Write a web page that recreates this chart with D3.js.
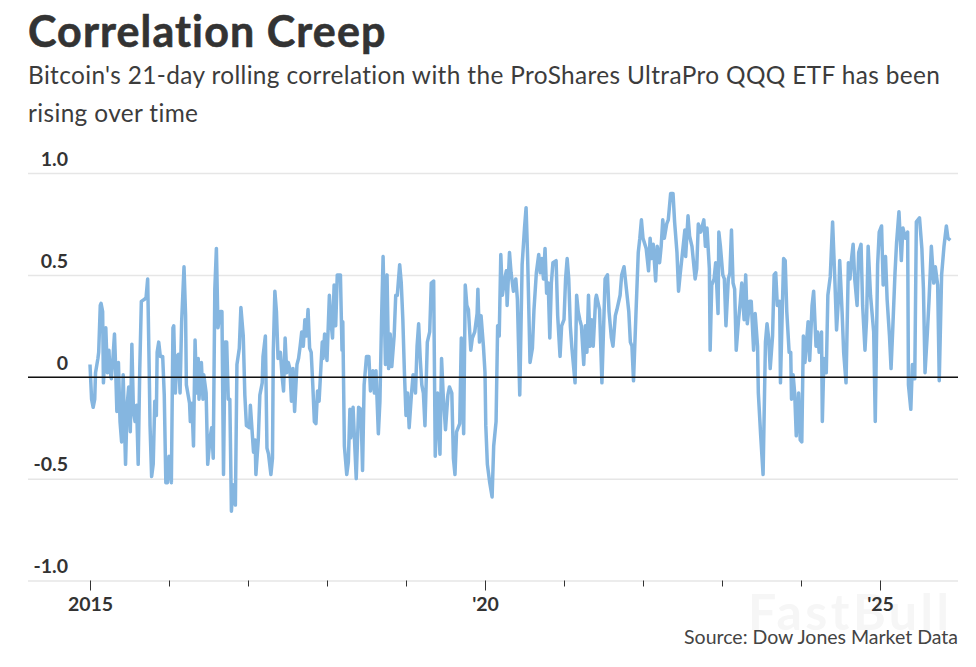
<!DOCTYPE html>
<html>
<head>
<meta charset="utf-8">
<script src="https://cdn.jsdelivr.net/npm/d3@7"></script>
<style>
  html, body { margin: 0; padding: 0; background: #fff; }
  svg { display: block; font-family: Lato, sans-serif; font-variant-ligatures: none; }
</style>
</head>
<body>
<div id="chart"></div>
<script>
// years as fractions since 2015
var yearOffsets = [
  0,.02,.04,.06,.07,.10,.11,.13,.14,.16,.17,.19,.20,.22,.24,.25,.27,.29,.31,.32,.34,.36,.38,.40,.42,.45,.47,.49,.51,.53,.55,.57,.59,.61,.63,.65,.69,.71,.73,.75,.76,.78,.80,.82,.84,.85,.87,.89,.92,.94,.96,.98,
  1.00,1.03,1.05,1.06,1.08,1.10,1.12,1.14,1.16,1.19,1.21,1.22,1.26,1.27,1.29,1.31,1.33,1.35,1.37,1.38,1.41,1.43,1.44,1.47,1.49,1.52,1.54,1.56,1.58,1.60,1.62,1.65,1.67,1.69,1.71,1.73,1.75,1.77,1.79,1.81,1.84,1.86,1.89,1.91,1.94,1.96,1.98,
  2.02,2.03,2.07,2.09,2.10,2.13,2.15,2.18,2.19,2.22,2.24,2.26,2.29,2.31,2.32,2.34,2.36,2.38,2.41,2.43,2.45,2.47,2.49,2.51,2.53,2.55,2.57,2.59,2.62,2.64,2.66,2.68,2.70,2.72,2.74,2.76,2.78,2.80,2.82,2.84,2.86,2.88,2.90,2.94,2.95,2.97,
  3.00,3.03,3.05,3.07,3.09,3.11,3.13,3.17,3.19,3.20,3.22,3.25,3.27,3.29,3.30,3.33,3.37,3.40,3.43,3.45,3.47,3.50,3.53,3.55,3.58,3.60,3.62,3.65,3.67,3.69,3.71,3.74,3.76,3.78,3.80,3.82,3.85,3.87,3.89,3.92,3.94,3.96,3.98,
  4.00,4.02,4.04,4.07,4.09,4.12,4.14,4.16,4.18,4.20,4.22,4.24,4.27,4.30,4.32,4.35,4.37,4.40,4.43,4.45,4.47,4.50,4.53,4.55,4.58,4.60,4.62,4.64,4.68,4.70,4.73,4.75,4.77,4.79,4.82,4.84,4.87,4.90,4.91,4.93,4.95,4.98,
  5.00,5.01,5.03,5.06,5.09,5.11,5.14,5.16,5.18,5.20,5.22,5.25,5.27,5.28,5.31,5.33,5.36,5.39,5.41,5.44,5.47,5.50,5.52,5.54,5.57,5.60,5.62,5.65,5.68,5.70,5.72,5.74,5.76,5.78,5.80,5.82,5.84,5.86,5.90,5.92,5.95,5.97,
  6.00,6.02,6.04,6.06,6.08,6.10,6.14,6.16,6.18,6.20,6.22,6.25,6.27,6.29,6.31,6.33,6.35,6.37,6.40,6.41,6.45,6.48,6.52,6.55,6.57,6.60,6.62,6.65,6.67,6.71,6.73,6.76,6.79,6.82,6.84,6.86,6.88,6.91,6.94,6.96,6.98,
  7.00,7.04,7.07,7.09,7.11,7.13,7.16,7.18,7.21,7.23,7.25,7.27,7.30,7.32,7.35,7.38,7.40,7.43,7.45,7.47,7.50,7.53,7.54,7.57,7.59,7.62,7.66,7.68,7.70,7.73,7.75,7.77,7.79,7.81,7.84,7.85,7.87,7.90,7.92,7.95,7.96,7.98,
  8.01,8.03,8.05,8.08,8.10,8.12,8.14,8.16,8.18,8.21,8.23,8.25,8.28,8.30,8.32,8.35,8.37,8.40,8.42,8.45,8.46,8.49,8.52,8.55,8.57,8.59,8.61,8.64,8.66,8.68,8.70,8.73,8.74,8.78,8.80,8.82,8.85,8.87,8.88,8.90,8.92,8.94,8.97,8.99,
  9.01,9.03,9.05,9.09,9.11,9.14,9.16,9.19,9.21,9.23,9.26,9.27,9.29,9.32,9.34,9.37,9.40,9.43,9.45,9.48,9.49,9.52,9.54,9.57,9.60,9.62,9.64,9.66,9.68,9.71,9.73,9.76,9.78,9.81,9.83,9.85,9.88,9.92,9.94,9.97,9.99,
  10.02,10.04,10.07,10.09,10.12,10.14,10.16,10.19,10.21,10.24,10.27,10.29,10.32,10.35,10.36,10.39,10.41,10.44,10.46,10.50,10.53,10.55,10.57,10.60,10.62,10.65,10.68,10.70,10.73,10.75,10.78,10.81,10.84,10.86,10.89
];

var correlation = [
  .06,-.11,-.15,-.11,.02,.09,.12,.35,.36,.32,-.03,.12,.24,.02,.13,.04,-.01,.09,.21,.10,-.17,.07,-.22,-.32,.01,-.43,-.14,-.05,-.27,.16,-.17,-.22,-.14,-.43,.04,.37,.38,.39,.48,.02,-.24,-.49,-.43,-.12,-.19,.12,.17,.10,.10,-.09,-.52,-.52,
  -.39,-.52,.24,.25,-.08,.10,.11,-.08,.27,.54,.30,-.04,-.13,-.22,-.13,-.34,.18,-.08,.09,-.11,.07,-.11,.01,-.08,-.43,-.30,-.25,-.40,.43,.63,.24,.32,.32,-.48,.17,.17,-.11,-.11,-.66,-.53,-.63,.06,.14,.34,.20,-.09,-.24,
  -.25,-.14,-.37,-.31,-.48,-.31,-.09,-.03,.10,.20,-.35,-.38,-.48,-.40,.12,.42,.32,.09,.12,.01,-.07,.19,.02,.07,.04,-.12,.04,-.17,.06,.09,.15,.22,.15,.28,.20,.33,.14,.12,-.04,-.22,-.23,-.07,-.12,.17,.09,.21,
  .08,.40,.27,.19,.45,.25,.50,.50,.13,.27,-.34,-.48,-.42,-.16,-.30,-.15,-.50,-.15,-.16,-.46,-.04,.10,.10,-.07,.03,-.08,.03,-.28,-.12,.27,.59,.06,.50,.04,.21,.05,.20,.40,.40,.55,.46,.28,.02,
  -.19,-.08,-.25,-.08,.01,-.08,.15,.26,.09,-.04,-.08,-.24,.17,.22,.46,.47,-.39,-.08,-.38,.09,-.08,-.26,-.09,-.05,-.08,-.40,-.48,-.27,-.23,.19,-.28,.45,.35,.33,.13,.19,.22,.31,.43,.17,.30,.15,
  .02,-.24,-.43,-.52,-.59,-.34,-.22,.25,.20,.60,.40,.48,.52,.35,.61,.51,.42,.48,.38,-.09,.55,.73,.83,.58,.07,.14,.33,.51,.60,.51,.58,.48,.63,.41,.46,.19,.46,.56,.57,.30,.10,.25,
  .28,.48,.58,.48,.25,.14,-.03,.40,.32,.28,.25,.06,.25,.12,.40,.15,.28,.15,.38,.40,.33,-.03,.48,.50,.32,.19,.15,.30,.33,.40,.50,.54,.43,.32,.17,.15,-.02,.30,.61,.68,.77,
  .68,.63,.52,.68,.58,.65,.47,.64,.56,.64,.77,.68,.75,.77,.90,.90,.76,.61,.42,.50,.61,.72,.59,.79,.69,.64,.48,.53,.75,.71,.74,.77,.64,.73,.53,.13,.45,.48,.56,.31,.71,.64,
  .50,.48,.25,.48,.51,.72,.46,.43,.13,.28,.36,.46,.28,.50,.26,.37,.37,.13,.31,.15,-.08,-.29,-.48,.17,.26,.19,.04,.20,.50,.51,.35,.37,-.03,.58,.57,.32,.12,.12,-.11,.01,-.08,-.29,-.08,-.31,
  -.32,.20,.07,.27,.08,.35,.42,.15,.22,.12,.22,-.22,.09,.02,.40,.49,.76,.46,.23,.42,.57,.32,.12,-.03,.56,.48,.58,.65,.48,.35,.61,.65,.35,.13,.28,.64,.40,.22,-.22,.55,.71,
  .74,.45,.59,.38,.20,.04,.22,.51,.66,.81,.57,.73,.68,.71,-.04,-.16,.06,-.01,.76,.78,.63,.43,.02,.22,.37,.64,.46,.54,.45,-.02,.50,.64,.74,.68,.67
];

var startYear = 2015;
var yearTicks = [2015, 2016, 2017, 2018, 2019, 2020, 2021, 2022, 2023, 2024, 2025];
var yearLabels = {2015: "2015", 2020: "'20", 2025: "'25"};
var yTicks = [-1, -0.5, 0, 0.5, 1];
var yLabels = {"-1": "-1.0", "-0.5": "-0.5", "0": "0", "0.5": "0.5", "1": "1.0"};

var width = 976, height = 667;
var plotLeft = 28, plotRight = 958, plotTop = 173, plotBottom = 580.5;

var svg = d3.select("#chart").append("svg")
  .attr("width", width)
  .attr("height", height);

var x = d3.scaleLinear().domain([2015, 2026]).range([90, 90 + 79 * 11]);
var y = d3.scaleLinear().domain([-1, 1]).range([plotBottom, plotTop]);

//title + subtitle
svg.append("text")
  .attr("x", plotLeft).attr("y", 47)
  .attr("font-size", 43).attr("font-weight", 700).attr("letter-spacing", 1.1)
  .attr("fill", "#333").attr("stroke", "#333").attr("stroke-width", 0.6)
  .text("Correlation Creep");

svg.append("text")
  .attr("x", plotLeft).attr("y", 84)
  .attr("font-size", 24.4).attr("letter-spacing", 0.37).attr("fill", "#3c3c3c")
  .text("Bitcoin's 21-day rolling correlation with the ProShares UltraPro QQQ ETF has been");

svg.append("text")
  .attr("x", plotLeft).attr("y", 122)
  .attr("font-size", 24.4).attr("letter-spacing", 0.37).attr("fill", "#3c3c3c")
  .text("rising over time");

//watermark
svg.append("text")
  .attr("x", 748).attr("y", 630)
  .attr("font-size", 50).attr("font-weight", 700).attr("letter-spacing", 3.5).attr("fill", "#f6f6f6")
  .text("FastBull");

//y axis, labels sit above the gridlines
var yAxis = svg.append("g")
  .attr("transform", "translate(" + plotLeft + ",0)")
  .call(d3.axisRight(y).tickValues(yTicks).tickSize(plotRight - plotLeft).tickFormat(function(d) { return yLabels[d]; }));
yAxis.select(".domain").remove();
yAxis.selectAll("line").attr("stroke", "#e6e6e6").attr("stroke-width", 1.5);
yAxis.selectAll("text")
  .attr("x", 40).attr("y", -14).attr("dy", "0.32em")
  .attr("text-anchor", "end")
  .attr("font-size", 19.5).attr("font-family", "Lato, sans-serif").attr("font-weight", 700)
  .attr("fill", "#333");

//x axis, every 5th year is taller and labelled
var xAxis = svg.append("g")
  .attr("transform", "translate(0," + plotBottom + ")")
  .call(d3.axisBottom(x).tickValues(yearTicks).tickSize(6).tickFormat(function(d) { return yearLabels[d] || ""; }));
xAxis.select(".domain").remove();
xAxis.selectAll("line")
  .attr("stroke", "#333")
  .attr("y2", function(d) { return yearLabels[d] ? 10 : 6; });
xAxis.selectAll("text")
  .attr("y", 24).attr("dy", "0.32em")
  .attr("font-size", 19.5).attr("font-family", "Lato, sans-serif").attr("font-weight", 700)
  .attr("fill", "#333");

var points = correlation.map(function(d, i) { return [startYear + yearOffsets[i], d]; });

var line = d3.line()
  .x(function(d) { return x(d[0]); })
  .y(function(d) { return y(d[1]); });

svg.append("path")
  .datum(points)
  .attr("fill", "none")
  .attr("stroke", "#85b6e0")
  .attr("stroke-width", 3.5)
  .attr("stroke-linejoin", "round")
  .attr("d", line);

//zero line over the series
svg.append("line")
  .attr("x1", plotLeft).attr("x2", plotRight)
  .attr("y1", y(0) + 0.5).attr("y2", y(0) + 0.5)
  .attr("stroke", "#111").attr("stroke-width", 1.7);

svg.append("text")
  .attr("x", plotRight).attr("y", 644)
  .attr("text-anchor", "end")
  .attr("font-size", 19.5).attr("fill", "#444")
  .text("Source: Dow Jones Market Data");
</script>
</body>
</html>
